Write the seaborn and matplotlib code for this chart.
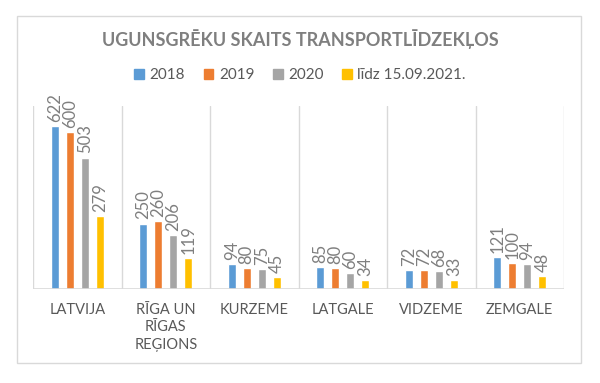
import matplotlib
matplotlib.use('Agg')
import matplotlib.pyplot as plt
import matplotlib.patches as mpatches
import seaborn as sns
import pandas as pd

regions = ["LATVIJA", "RĪGA UN\nRĪGAS\nREĢIONS", "KURZEME", "LATGALE", "VIDZEME", "ZEMGALE"]
years = ["2018", "2019", "2020", "līdz 15.09.2021."]
counts_2018 = [622, 250, 94, 85, 72, 121]
counts_2019 = [600, 260, 80, 80, 72, 100]
counts_2020 = [503, 206, 75, 60, 68, 94]
counts_2021 = [279, 119, 45, 34, 33, 48]
colors = ["#5B9BD5", "#ED7D31", "#A5A5A5", "#FFC000"]

# long table for seaborn
rows = []
for year, vals in zip(years, [counts_2018, counts_2019, counts_2020, counts_2021]):
    for reg, v in zip(regions, vals):
        rows.append({"region": reg, "year": year, "count": v})
df = pd.DataFrame(rows)

sns.set_style("white")
plt.rcParams['font.family'] = ['Lato', 'DejaVu Sans']

fig = plt.figure(figsize=(6, 3.83), dpi=100)
ax = fig.add_axes([0.055, 0.2454, 0.885, 0.4778])

sns.barplot(data=df, x="region", y="count", hue="year", palette=colors,
            width=0.68, gap=0.47, ax=ax, legend=False, saturation=1)

for cont in ax.containers:
    ax.bar_label(cont, rotation=90, padding=3, fontsize=12, color="#7F7F7F")

ax.set_xlim(-0.5, len(regions) - 0.5)
ax.set_ylim(0, 700)
for i in range(len(regions) + 1):
    ax.axvline(i - 0.5, color="#D9D9D9", lw=1, zorder=0)
for s in ax.spines.values():
    s.set_visible(False)
ax.axhline(0, color="#D9D9D9", lw=1.2)
ax.set_yticks([])
ax.set_xlabel("")
ax.set_ylabel("")
ax.tick_params(axis="x", length=0, pad=10)
for lbl in ax.get_xticklabels():
    lbl.set_fontsize(10.5)
    lbl.set_color("#595959")
    lbl.set_linespacing(1.3)

fig.text(0.5, 1 - 39 / 383, "UGUNSGRĒKU SKAITS TRANSPORTLĪDZEKĻOS", ha="center", va="center",
         fontsize=13, fontweight="bold", color="#7F7F7F")

handles = [mpatches.Patch(color=c, label=y) for c, y in zip(colors, years)]
fig.legend(handles=handles, loc="center", bbox_to_anchor=(0.5, 1 - 75 / 383), ncol=4,
           frameon=False, fontsize=11, handlelength=0.65, handleheight=0.65,
           handletextpad=0.35, columnspacing=1.2, labelcolor="#595959")

fig.patches.append(mpatches.Rectangle((17 / 600, 1 - 363 / 383), 564 / 600, 347 / 383,
                                      transform=fig.transFigure, fill=False,
                                      edgecolor="#D9D9D9", lw=1))

fig.savefig("out.png", dpi=100)
